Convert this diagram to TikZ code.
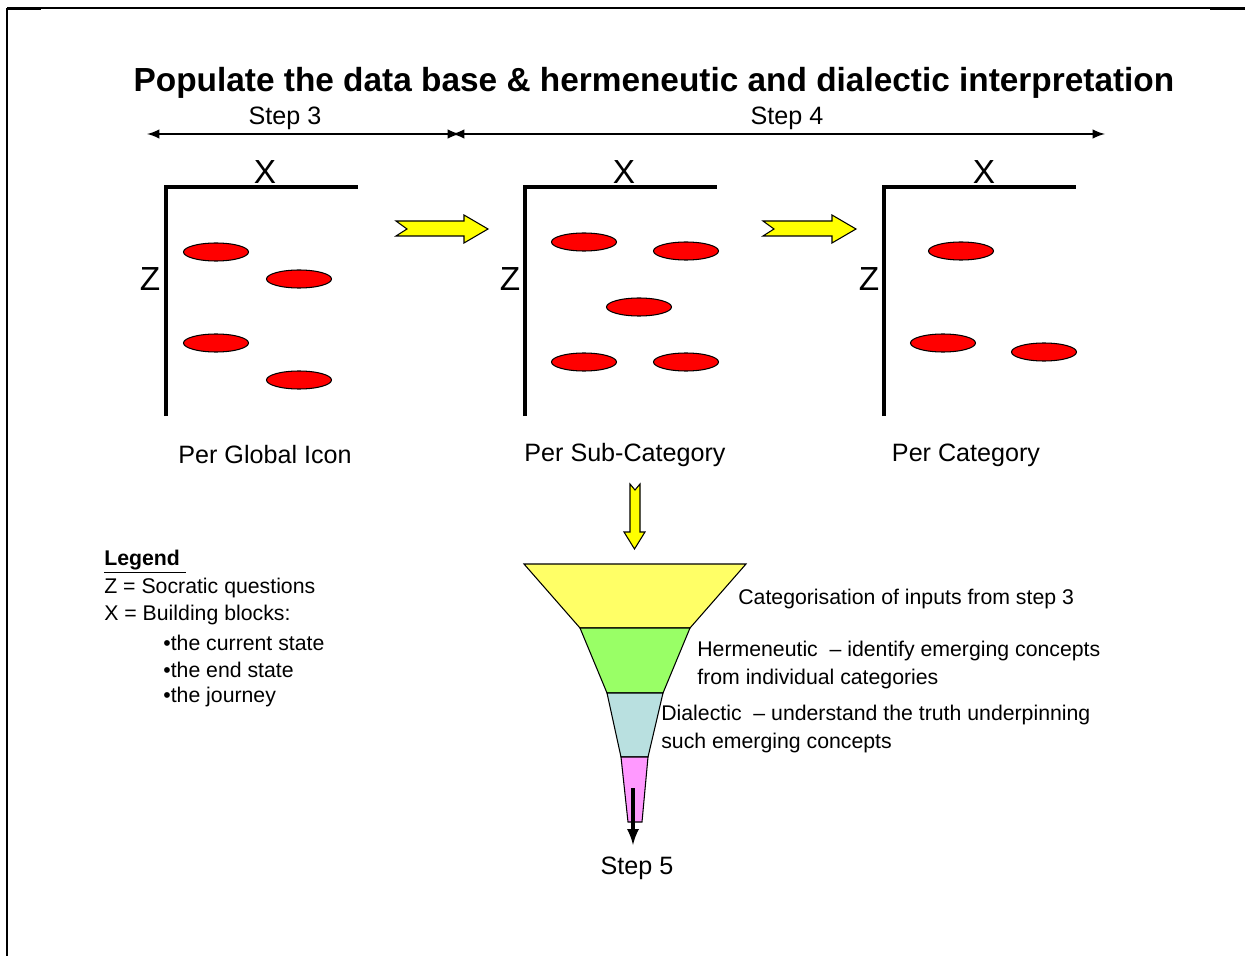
\documentclass[tikz,border=0pt]{standalone}
\usepackage{fontspec}
\setmainfont{Liberation Sans}
\usepackage{tikz}
\usetikzlibrary{arrows}

\definecolor{arrowyellow}{HTML}{FFFF00}
\definecolor{funyellow}{HTML}{FFFF66}
\definecolor{fungreen}{HTML}{99FF66}
\definecolor{funblue}{HTML}{B9E0E0}
\definecolor{funpink}{HTML}{FF99FF}

\begin{document}
\begin{tikzpicture}[x=0.02cm,y=-0.02cm,
    txt/.style={inner sep=0pt,font=\fontsize{14.3}{17}\selectfont},
    small/.style={inner sep=0pt,anchor=west,align=left,font=\fontsize{12.1}{15.4}\selectfont},
    big/.style={inner sep=0pt,font=\fontsize{19}{23}\selectfont},
    axis/.style={line width=2.1pt},
    blob/.style={draw=black,fill=red,line width=0.6pt},
    yarrow/.style={draw=black,fill=arrowyellow,line width=0.6pt,line join=miter},
    funnel/.style={draw=black,line width=0.6pt}]
      \useasboundingbox (0,0) rectangle (1245,956);
      % frame
      \draw[line width=0.6pt] (7,8) -- (1245,8);
      \draw[line width=1.3pt] (7,9) -- (41,9);
      \draw[line width=1.3pt] (1210,9) -- (1245,9);
      \draw[line width=1.3pt] (7,8) -- (7,956);
      % title and steps
      \node[inner sep=0pt,font=\bfseries\fontsize{19}{23}\selectfont] (title) at (654,83)
        {Populate the data base \& hermeneutic and dialectic interpretation};
      \node[txt] (step3) at (285,118) {Step 3};
      \node[txt] (step4) at (787,118) {Step 4};
      \coordinate (s3a) at (147,134);
      \coordinate (s3b) at (460,134);
      \coordinate (s4a) at (452,134);
      \coordinate (s4b) at (1105,134);
      \draw[latex-latex, line width=1.4pt] (s3a) -- (s3b);
      \draw[latex-latex, line width=1.4pt] (s4a) -- (s4b);
      % panel 1
      \draw[axis] (166,416) -- (166,187) -- (358,187);
      \node[big] (x1) at (265,172) {X};
      \node[big] (z1) at (150,279) {Z};
      \draw[blob] (216,252) ellipse (32.5 and 9);
      \draw[blob] (299,279) ellipse (32.5 and 9);
      \draw[blob] (216,343) ellipse (32.5 and 9);
      \draw[blob] (299,380) ellipse (32.5 and 9);
      \node[txt] (cap1) at (265,455) {Per Global Icon};
      % panel 2
      \draw[axis] (525,416) -- (525,187) -- (717,187);
      \node[big] (x2) at (624,172) {X};
      \node[big] (z2) at (510,279) {Z};
      \draw[blob] (584,242) ellipse (32.5 and 9);
      \draw[blob] (686,251) ellipse (32.5 and 9);
      \draw[blob] (639,307) ellipse (32.5 and 9);
      \draw[blob] (584,362) ellipse (32.5 and 9);
      \draw[blob] (686,362) ellipse (32.5 and 9);
      \node[txt] (cap2) at (625,455) {Per Sub-Category};
      % panel 3
      \draw[axis] (884,416) -- (884,187) -- (1076,187);
      \node[big] (x3) at (984,172) {X};
      \node[big] (z3) at (869,279) {Z};
      \draw[blob] (961,251) ellipse (32.5 and 9);
      \draw[blob] (943,343) ellipse (32.5 and 9);
      \draw[blob] (1044,352) ellipse (32.5 and 9);
      \node[txt] (cap3) at (966,455) {Per Category};
      % yellow block arrows
      \draw[yarrow] (396,221) -- (464,221) -- (464,215) -- (488,229) -- (464,243)
        -- (464,236) -- (396,236) -- (407,229) -- cycle;
      \draw[yarrow] (763,221) -- (832,221) -- (832,215) -- (856,229) -- (832,243)
        -- (832,236) -- (763,236) -- (774,229) -- cycle;
      \draw[yarrow] (630,484) -- (635,490) -- (640,484) -- (640,532) -- (645,532)
        -- (634.5,549) -- (624,532) -- (630,532) -- cycle;
      % funnel
      \draw[funnel, fill=funyellow] (524,564) -- (746,564) -- (690,628) -- (580,628) -- cycle;
      \draw[funnel, fill=fungreen] (580,628) -- (690,628) -- (663,693) -- (607,693) -- cycle;
      \draw[funnel, fill=funblue] (607,693) -- (663,693) -- (648,757) -- (621,757) -- cycle;
      \draw[funnel, fill=funpink] (621,757) -- (648,757) -- (642,822) -- (628,822) -- cycle;
      \node[small] (cat) at (738,599) {Categorisation of inputs from step 3};
      \node[small] (herm) at (697,665) {Hermeneutic\ \ -- identify emerging concepts\\from individual categories};
      \node[small] (dial) at (661,729) {Dialectic\ \ -- understand the truth underpinning\\such emerging concepts};
      \coordinate (tail) at (633,788);
      \coordinate (tip) at (633,845);
      \draw[-latex, line width=2.1pt] (tail) -- (tip);
      \node[txt] (step5) at (637,868) {Step 5};
      % legend
      \node[small] (leg) at (104,562) {\underline{\textbf{Legend }}};
      \node[small] (lz) at (104,588) {Z = Socratic questions};
      \node[small] (lx) at (104,615) {X = Building blocks:};
      \node[small] (b1) at (163,643) {•the current state};
      \node[small] (b2) at (163,670) {•the end state};
      \node[small] (b3) at (163,697) {•the journey};
    \end{tikzpicture}
\end{document}
